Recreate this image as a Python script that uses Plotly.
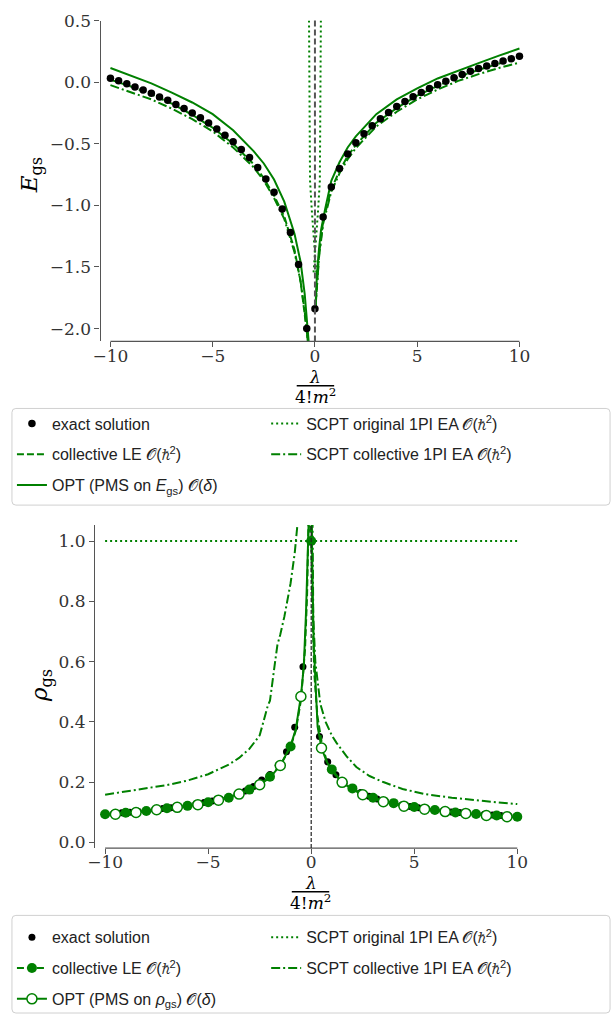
import numpy as np
import plotly.graph_objects as go

GREEN = "#008000"
W, H = 615, 1019
SPINE = "#555555"
TXT = "#333333"

# ---------------- top panel: ground-state energy ----------------
lam_exact = np.round(np.linspace(-10, 10, 51), 2)
E_exact = [0.032, 0.011, -0.013, -0.040, -0.064, -0.091, -0.120, -0.147, -0.182, -0.214,
           -0.251, -0.289, -0.331, -0.380, -0.431, -0.484, -0.546, -0.612, -0.693, -0.786,
           -0.893, -1.03, -1.22, -1.48, -2.0, -1.84, -1.094, -0.851, -0.701, -0.583,
           -0.492, -0.419, -0.353, -0.297, -0.246, -0.198, -0.158, -0.118, -0.083, -0.051,
           -0.021, 0.008, 0.035, 0.062, 0.088, 0.110, 0.131, 0.152, 0.171, 0.190, 0.211]

E_le_x = [-10, -9, -8, -7, -6, -5, -4, -3, -2.5, -2, -1.5, -1, -0.7, -0.5, -0.4, -0.34, None,
          0.02, 0.1, 0.2, 0.4, 0.8, 1.2, 1.6, 2, 3, 4, 5, 6, 7, 8, 9, 10]
E_le_y = [0.02, -0.035, -0.10, -0.175, -0.265, -0.37, -0.50, -0.665, -0.78, -0.92, -1.09, -1.36,
          -1.62, -1.86, -2.02, -2.12, None,
          -1.85, -1.6, -1.40, -1.13, -0.87, -0.72, -0.60, -0.51, -0.33, -0.21, -0.11, -0.03,
          0.04, 0.10, 0.15, 0.20]

E_opt_x = [-10, -9, -8, -7, -6, -5, -4, -3, -2.5, -2, -1.5, -1.0, -0.7, -0.5, -0.4, -0.3, None,
           0.03, 0.1, 0.2, 0.3, 0.5, 0.8, 1.2, 1.6, 2, 3, 4, 5, 6, 7, 8, 9, 10]
E_opt_y = [0.115, 0.055, -0.01, -0.085, -0.165, -0.26, -0.39, -0.56, -0.66, -0.79, -0.97, -1.23,
           -1.46, -1.72, -1.93, -2.12, None,
           -1.82, -1.55, -1.35, -1.2, -1.03, -0.80, -0.65, -0.53, -0.44, -0.26, -0.14, -0.05,
           0.03, 0.095, 0.155, 0.215, 0.273]

E_scptc_x = [-10, -9, -8, -7, -6, -5, -4, -3, -2.5, -2, -1.5, -1, -0.7, -0.5, -0.4, -0.34, None,
             0.02, 0.1, 0.2, 0.4, 0.8, 1.2, 1.6, 2, 3, 4, 5, 6, 7, 8, 9, 10]
E_scptc_y = [-0.024, -0.08, -0.14, -0.215, -0.30, -0.40, -0.53, -0.69, -0.80, -0.94, -1.11, -1.38,
             -1.62, -1.86, -2.02, -2.12, None,
             -1.84, -1.62, -1.42, -1.15, -0.89, -0.74, -0.625, -0.535, -0.36, -0.24, -0.14,
             -0.06, 0.01, 0.065, 0.115, 0.158]

E_scpto_x = [-0.29, -0.28, -0.24, -0.15, -0.07, 0.0, 0.07, None,
             0.29, 0.28, 0.24, 0.15, 0.07, 0.0, -0.07]
E_scpto_y = [0.5, -0.3, -0.8, -1.05, -1.25, -1.4, -1.55, None,
             0.5, -0.3, -0.8, -1.05, -1.25, -1.4, -1.55]

# ---------------- bottom panel: ground-state density ----------------
rho_exact = [0.093, 0.095, 0.098, 0.100, 0.103, 0.105, 0.108, 0.112, 0.115, 0.118,
             0.122, 0.127, 0.132, 0.137, 0.143, 0.150, 0.160, 0.170, 0.185, 0.207,
             0.225, 0.256, 0.301, 0.382, 0.583, 1.0, 0.351, 0.267, 0.224, 0.197,
             0.178, 0.165, 0.153, 0.144, 0.136, 0.130, 0.124, 0.119, 0.115, 0.111,
             0.107, 0.104, 0.101, 0.099, 0.097, 0.095, 0.093, 0.091, 0.089, 0.087, 0.085]

rho_le_x = [-10, -9, -8, -7, -6, -5, -4, -3, -2.5, -2, -1.5, -1, -0.75, -0.5, -0.3, -0.2, -0.12,
            0, 0.05, 0.15, 0.3, 0.5, 0.75, 1, 1.5, 2, 2.5, 3, 4, 5, 6, 7, 8, 9, 10]
rho_le_y = [0.093, 0.098, 0.104, 0.113, 0.121, 0.133, 0.148, 0.175, 0.193, 0.218, 0.255, 0.318,
            0.37, 0.47, 0.64, 0.82, 1.1,
            1.0, 0.8, 0.56, 0.42, 0.335, 0.27, 0.242, 0.200, 0.179, 0.162, 0.148, 0.130, 0.117,
            0.107, 0.099, 0.094, 0.089, 0.085]

rho_opt_x = [-10, -9.5, -9, -8.5, -8, -7.5, -7, -6.5, -6, -5.5, -5, -4.5, -4, -3.5, -3, -2.5, -2,
             -1.5, -1, -0.75, -0.5, -0.36, -0.25, -0.17, -0.1, 0.02, 0.04, 0.12, 0.31, 0.5,
             0.75, 1, 1.5, 2, 2.5, 3, 3.5, 4, 4.5, 5, 5.5, 6, 6.5, 7, 7.5, 8, 8.5, 9, 9.5, 10]
rho_opt_y = [0.091, 0.093, 0.096, 0.099, 0.103, 0.108, 0.112, 0.116, 0.120, 0.125, 0.132, 0.140,
             0.149, 0.160, 0.173, 0.191, 0.215, 0.255, 0.32, 0.375, 0.484, 0.583, 0.766, 1.055,
             1.4, 1.4, 0.98, 0.66, 0.384, 0.313, 0.268, 0.237, 0.199, 0.176, 0.158, 0.145,
             0.135, 0.127, 0.120, 0.114, 0.110, 0.106, 0.102, 0.099, 0.096, 0.093, 0.089, 0.087,
             0.085, 0.083]

rho_scpto_x = [-10, 10]
rho_scpto_y = [1.0, 1.0]

rho_scptc_x = [-10, -9, -8, -7, -6, -5, -4, -3.5, -3, -2.5, -2.1, -2.0, -1.75, -1.64, -1.5, -1.3,
               -1.0, -0.8, -0.66, -0.55, None,
               0.04, 0.1, 0.2, 0.28, 0.44, 0.7, 1.0, 1.23, 1.71, 2.19, 2.83, 3.5, 4.43, 5.5,
               6.82, 8.5, 10]
rho_scptc_y = [0.158, 0.168, 0.178, 0.19, 0.205, 0.226, 0.258, 0.28, 0.31, 0.355, 0.455, 0.47,
               0.60, 0.655, 0.69, 0.75, 0.86, 0.96, 1.06, 1.3, None,
               1.3, 0.75, 0.6, 0.548, 0.46, 0.40, 0.355, 0.33, 0.286, 0.25, 0.22, 0.20, 0.177,
               0.16, 0.148, 0.136, 0.127]

# legend labels
L_EXACT = "exact solution"
L_LE = "collective LE 𝒪(ℏ<sup>2</sup>)"
L_OPT_E = "OPT (PMS on <i>E</i><sub>gs</sub>) 𝒪(<i>δ</i>)"
L_OPT_R = "OPT (PMS on <i>ρ</i><sub>gs</sub>) 𝒪(<i>δ</i>)"
L_SCPTO = "SCPT original 1PI EA 𝒪(ℏ<sup>2</sup>)"
L_SCPTC = "SCPT collective 1PI EA 𝒪(ℏ<sup>2</sup>)"

DASH = "7px,3px"
DOT = "2px,3px"
DASHDOT = "9px,3px,2px,3px"

fig = go.Figure()

# ----- top traces -----
fig.add_trace(go.Scatter(x=E_scpto_x, y=E_scpto_y, mode="lines", name=L_SCPTO, legendrank=1,
                         legendgroup="a4", line=dict(color=GREEN, width=2, dash=DOT),
                         xaxis="x", yaxis="y", legend="legend2"))
fig.add_trace(go.Scatter(x=E_le_x, y=E_le_y, mode="lines", name=L_LE, legendrank=2,
                         legendgroup="a2", line=dict(color=GREEN, width=2, dash=DASH),
                         xaxis="x", yaxis="y", legend="legend"))
fig.add_trace(go.Scatter(x=E_scptc_x, y=E_scptc_y, mode="lines", name=L_SCPTC, legendrank=2,
                         legendgroup="a5", line=dict(color=GREEN, width=2, dash=DASHDOT),
                         xaxis="x", yaxis="y", legend="legend2"))
fig.add_trace(go.Scatter(x=E_opt_x, y=E_opt_y, mode="lines", name=L_OPT_E, legendrank=3,
                         legendgroup="a3", line=dict(color=GREEN, width=2),
                         xaxis="x", yaxis="y", legend="legend"))
fig.add_trace(go.Scatter(x=lam_exact, y=E_exact, mode="markers", name=L_EXACT, legendrank=1,
                         legendgroup="a1", marker=dict(color="black", size=7.5),
                         xaxis="x", yaxis="y", legend="legend"))

# ----- bottom traces -----
rx = np.array(rho_le_x, dtype=float)
ry = np.array(rho_le_y, dtype=float)
le_mask = np.isclose(rx, np.round(rx))
ox = np.array(rho_opt_x, dtype=float)
oy = np.array(rho_opt_y, dtype=float)
opt_mask = np.isclose(ox % 1, 0.5)

fig.add_trace(go.Scatter(x=lam_exact, y=rho_exact, mode="markers", name=L_EXACT, legendrank=1,
                         legendgroup="b1", marker=dict(color="black", size=7),
                         xaxis="x2", yaxis="y2", legend="legend3"))
fig.add_trace(go.Scatter(x=rho_scpto_x, y=rho_scpto_y, mode="lines", name=L_SCPTO, legendrank=1,
                         legendgroup="b4", line=dict(color=GREEN, width=2, dash=DOT),
                         xaxis="x2", yaxis="y2", legend="legend4"))
fig.add_trace(go.Scatter(x=rho_scptc_x, y=rho_scptc_y, mode="lines", name=L_SCPTC, legendrank=2,
                         legendgroup="b5", line=dict(color=GREEN, width=2, dash=DASHDOT),
                         xaxis="x2", yaxis="y2", legend="legend4"))
fig.add_trace(go.Scatter(x=rho_le_x, y=rho_le_y, mode="lines", showlegend=False,
                         line=dict(color=GREEN, width=2, dash=DASH), xaxis="x2", yaxis="y2"))
fig.add_trace(go.Scatter(x=rho_opt_x, y=rho_opt_y, mode="lines", showlegend=False,
                         line=dict(color=GREEN, width=2), xaxis="x2", yaxis="y2"))
fig.add_trace(go.Scatter(x=rx[le_mask], y=ry[le_mask], mode="markers", showlegend=False,
                         marker=dict(color=GREEN, size=10), xaxis="x2", yaxis="y2"))
fig.add_trace(go.Scatter(x=ox[opt_mask], y=oy[opt_mask], mode="markers", showlegend=False,
                         marker=dict(color="white", size=10, line=dict(color=GREEN, width=1.5)),
                         xaxis="x2", yaxis="y2"))
# legend-only entries for line+marker series
fig.add_trace(go.Scatter(x=[None], y=[None], mode="lines+markers", name=L_LE, legendrank=2,
                         legendgroup="b2", line=dict(color=GREEN, width=2, dash=DASH),
                         marker=dict(color=GREEN, size=10), xaxis="x2", yaxis="y2",
                         legend="legend3"))
fig.add_trace(go.Scatter(x=[None], y=[None], mode="lines+markers", name=L_OPT_R, legendrank=3,
                         legendgroup="b3", line=dict(color=GREEN, width=2),
                         marker=dict(color="white", size=10, line=dict(color=GREEN, width=1.5)),
                         xaxis="x2", yaxis="y2", legend="legend3"))


def px_x(p):
    return p / W


def px_y(p):
    return 1 - p / H


tickfont = dict(family="DejaVu Serif", size=17, color=TXT)
common_x = dict(showline=False, showgrid=False, zeroline=False, ticks="outside", ticklen=5,
                tickwidth=1.3, tickcolor=SPINE, tickvals=[-10, -5, 0, 5, 10], tickfont=tickfont,
                ticklabelstandoff=-6)
common_y = dict(showline=True, linecolor=SPINE, linewidth=1.3, showgrid=False, zeroline=False,
                ticks="outside", ticklen=5, tickwidth=1.3, tickcolor=SPINE, tickfont=tickfont,
                tickformat=".1f")

legend_common = dict(orientation="v", xanchor="left", yanchor="top",
                     borderwidth=0, bgcolor="rgba(0,0,0,0)", tracegroupgap=7,
                     font=dict(family="Liberation Sans", size=16, color="#222222"),
                     traceorder="grouped", itemsizing="trace")

fig.update_layout(
    width=W, height=H, margin=dict(l=0, r=0, t=0, b=0),
    paper_bgcolor="white", plot_bgcolor="white",
    xaxis=dict(domain=[px_x(94), px_x(529)], range=[-10.48, 10.48], anchor="y", **common_x),
    yaxis=dict(domain=[px_y(336), px_y(10.7)], range=[-2.104, 0.5], anchor="x",
               tickvals=[-2, -1.5, -1, -0.5, 0, 0.5], **common_y),
    xaxis2=dict(domain=[px_x(88.3), px_x(527.1)], range=[-10.49, 10.49], anchor="y2", **common_x),
    yaxis2=dict(domain=[px_y(849.7), px_y(522.3)], range=[-0.019, 1.053], anchor="x2",
                tickvals=[0, 0.2, 0.4, 0.6, 0.8, 1.0], **common_y),
    legend=dict(x=px_x(4), y=px_y(402), **legend_common),
    legend2=dict(x=px_x(262), y=px_y(402), **legend_common),
    legend3=dict(x=px_x(4), y=px_y(923), **legend_common),
    legend4=dict(x=px_x(262), y=px_y(923), **legend_common),
    showlegend=True,
)


def rounded_box(x0, y0, x1, y1, r=4):
    """Rounded rectangle path (pixel inputs, top-left origin) in paper coords."""
    X = lambda p: p / W
    Y = lambda p: 1 - p / H
    return (f"M {X(x0 + r)},{Y(y0)} L {X(x1 - r)},{Y(y0)} Q {X(x1)},{Y(y0)} {X(x1)},{Y(y0 + r)} "
            f"L {X(x1)},{Y(y1 - r)} Q {X(x1)},{Y(y1)} {X(x1 - r)},{Y(y1)} "
            f"L {X(x0 + r)},{Y(y1)} Q {X(x0)},{Y(y1)} {X(x0)},{Y(y1 - r)} "
            f"L {X(x0)},{Y(y0 + r)} Q {X(x0)},{Y(y0)} {X(x0 + r)},{Y(y0)} Z")


shapes = [
    # legend frames
    dict(type="path", xref="paper", yref="paper", path=rounded_box(4, 404, 611, 502),
         line=dict(color="#d0d0d0", width=1), fillcolor="rgba(0,0,0,0)", layer="below"),
    dict(type="path", xref="paper", yref="paper", path=rounded_box(4, 918, 611, 1017),
         line=dict(color="#d0d0d0", width=1), fillcolor="rgba(0,0,0,0)", layer="below"),
    # trimmed x spines
    dict(type="line", xref="x", yref="y domain", x0=-10, x1=10, y0=0, y1=0,
         line=dict(color=SPINE, width=1.3)),
    dict(type="line", xref="x2", yref="y2 domain", x0=-10, x1=10, y0=0, y1=0,
         line=dict(color=SPINE, width=1.3)),
    # vertical reference lines at 0
    dict(type="line", xref="x", yref="y domain", x0=0, x1=0, y0=0, y1=1,
         line=dict(color="#555555", width=2, dash="6px,3px"), layer="above"),
    dict(type="line", xref="x2", yref="y2 domain", x0=0, x1=0, y0=0, y1=1,
         line=dict(color="#222222", width=1.2, dash="4px,2px"), layer="above"),
    # fraction bars in x labels
    dict(type="line", xref="paper", yref="paper", x0=px_x(293), x1=px_x(331),
         y0=px_y(381), y1=px_y(381), line=dict(color="black", width=1.5)),
    dict(type="line", xref="paper", yref="paper", x0=px_x(288), x1=px_x(326),
         y0=px_y(894), y1=px_y(894), line=dict(color="black", width=1.5)),
]
fig.update_layout(shapes=shapes)

lab = dict(family="DejaVu Serif", size=17, color="black")
cm = dict(xref="paper", yref="paper", showarrow=False, xanchor="center", yanchor="middle")
ann = [
    dict(text="<i>λ</i>", x=px_x(312), y=px_y(372), font=lab, **cm),
    dict(text="4!<i>m</i><sup>2</sup>", x=px_x(312), y=px_y(391), font=lab, **cm),
    dict(text="<i>λ</i>", x=px_x(307), y=px_y(885), font=lab, **cm),
    dict(text="4!<i>m</i><sup>2</sup>", x=px_x(307), y=px_y(904), font=lab, **cm),
    dict(text="<i>E</i><sub>gs</sub>", x=px_x(23), y=px_y(168), textangle=-90,
         font=dict(family="DejaVu Serif", size=23, color="black"), **cm),
    dict(text="<i>ρ</i><sub>gs</sub>", x=px_x(33), y=px_y(685), textangle=-90,
         font=dict(family="DejaVu Serif", size=23, color="black"), **cm),
]
fig.update_layout(annotations=ann)

fig.write_html("out.html")
